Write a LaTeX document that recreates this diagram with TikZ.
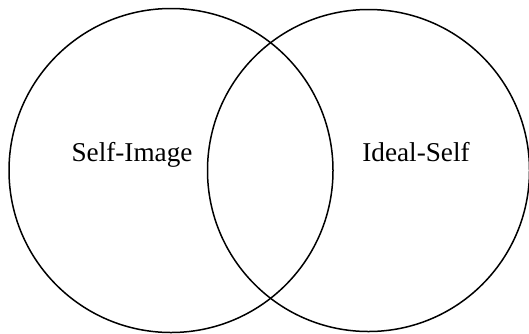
\documentclass[tikz,border=0pt]{standalone}
\usepackage{fontspec}
\setmainfont{Liberation Serif}
\begin{document}
\begin{tikzpicture}[x=1pt,y=-1pt,
  setcircle/.style={draw=black,line width=1.5pt,circle,minimum size=324pt,inner sep=0pt},
  lbl/.style={font=\fontsize{27.2}{31}\selectfont,anchor=base,inner sep=0pt}]
\useasboundingbox (0,0) rectangle (529,333);
\node[setcircle] (left) at (171,170.5) {};
\node[setcircle,minimum size=322pt] (right) at (368.5,170.5) {};
\node[lbl] (si) at (132,161) {Self-Image};
\node[lbl] (is) at (416,161) {Ideal-Self};
\end{tikzpicture}
\end{document}
